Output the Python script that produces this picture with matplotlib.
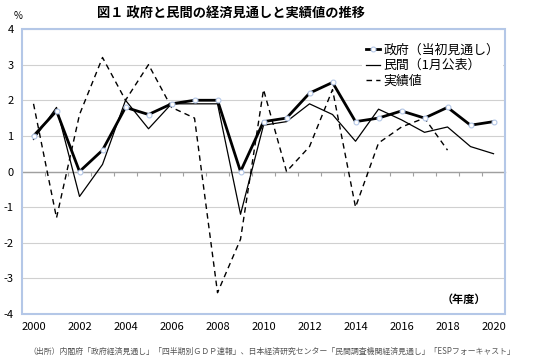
import matplotlib.pyplot as plt
from matplotlib.patches import Rectangle

plt.rcParams['font.family'] = ['Noto Sans CJK JP', 'DejaVu Sans']
plt.rcParams['axes.unicode_minus'] = False

years = list(range(2000, 2021))
gov = [1.0, 1.7, 0.0, 0.6, 1.8, 1.6, 1.9, 2.0, 2.0, 0.0, 1.4,
       1.5, 2.2, 2.5, 1.4, 1.5, 1.7, 1.5, 1.8, 1.3, 1.4]
private = [0.9, 1.8, -0.7, 0.2, 2.0, 1.2, 1.9, 1.9, 1.9, -1.2, 1.3,
           1.4, 1.9, 1.6, 0.85, 1.75, 1.45, 1.1, 1.25, 0.7, 0.5]
actual_years = list(range(2000, 2019))
actual = [1.9, -1.3, 1.6, 3.2, 2.0, 3.0, 1.8, 1.5, -3.4, -1.9, 2.3,
          0.0, 0.7, 2.3, -1.0, 0.8, 1.25, 1.5, 0.6]
year_labels = [str(y) for y in years[::2]]

border = '#b4c7e7'
grid = '#d0d0d0'

fig = plt.figure(figsize=(5.41, 3.61), dpi=100)
ax = fig.add_axes([0.0407, 0.130, 0.8928, 0.7897])

ax.set_xlim(1999.5, 2020.5)
ax.set_ylim(-4, 4)
ax.set_yticks(range(-4, 5))
ax.yaxis.grid(True, color=grid, lw=0.8)
ax.set_axisbelow(True)

for s in ['top', 'right', 'left']:
    ax.spines[s].set_visible(False)
ax.spines['bottom'].set_position(('data', 0))
ax.spines['bottom'].set_color('#a0a0a0')
ax.spines['bottom'].set_linewidth(1.0)
ax.add_patch(Rectangle((0, 0), 1, 1, transform=ax.transAxes, fill=False,
                       ec=border, lw=1.5, zorder=5, clip_on=False))

ax.set_xticks([y - 0.5 for y in years[1:]])
ax.tick_params(axis='x', length=3, color='#a0a0a0', labelbottom=False)
ax.tick_params(axis='y', length=0, labelsize=8, pad=6)

sec = ax.secondary_xaxis('bottom')
sec.set_xticks(years[::2], year_labels)
sec.tick_params(length=0, labelsize=8, pad=6)
sec.spines['bottom'].set_visible(False)

ax.plot(actual_years, actual, color='black', lw=1.0, ls=(0, (4, 3)),
        label='実績値', zorder=3)
ax.plot(years, private, color='black', lw=0.9, label='民間（1月公表）', zorder=3)
ax.plot(years, gov, color='black', lw=2.0, marker='o', ms=3.5,
        mfc='white', mec='#b4c7e7', mew=0.8, label='政府（当初見通し）', zorder=4)

h, l = ax.get_legend_handles_labels()
leg = ax.legend(h[::-1], l[::-1], loc='upper left', bbox_to_anchor=(0.69, 0.985),
                fontsize=9.3, handlelength=1.1, handletextpad=0.25,
                labelspacing=0.2, frameon=True, borderpad=0.3)
leg.get_frame().set_edgecolor('none')
leg.get_frame().set_facecolor('white')
leg.get_frame().set_alpha(1)

ax.text(0.96, 0.05, '（年度）', transform=ax.transAxes, ha='right', va='center',
        fontsize=8, fontweight='bold')

fig.text(0.427, 0.963, '図１ 政府と民間の経済見通しと実績値の推移', ha='center',
         va='center', fontsize=9.5, fontweight='bold')
fig.text(0.033, 0.955, '%', ha='center', va='center', fontsize=7)
fig.text(0.502, 0.027,
         '（出所）内閣府「政府経済見通し」「四半期別ＧＤＰ速報」、日本経済研究センター「民間調査機関経済見通し」「ESPフォーキャスト」',
         ha='center', va='center', fontsize=5.7, color='#555555')

fig.savefig('out.png', dpi=100)
